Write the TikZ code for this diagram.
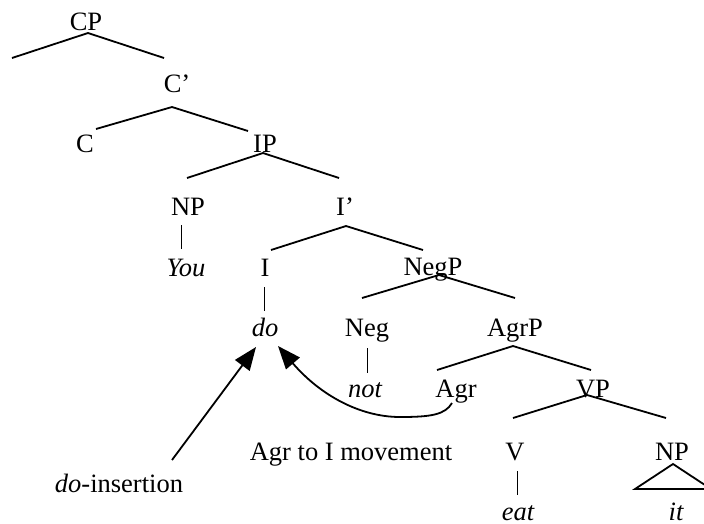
\documentclass[tikz,border=0pt]{standalone}
\usepackage{fontspec}
\setmainfont{Liberation Serif}
\usetikzlibrary{arrows.meta}
\begin{document}
\begin{tikzpicture}[x=1pt,y=-1pt,
  lab/.style={anchor=base, inner sep=0pt, font=\fontsize{26.5}{30}\selectfont},
  br/.style={line width=1.8pt},
  bar/.style={line width=0.9pt},
  mv/.style={line width=1.8pt, -{Triangle[length=23pt,width=18pt]}}]
\useasboundingbox (0,0) rectangle (704,523);
% labels
\node[lab] (CP) at (86,30) {CP};
\node[lab] (Cbar) at (177,92) {C’};
\node[lab] (C) at (85,152) {C};
\node[lab] (IP) at (265,152) {IP};
\node[lab] (NP1) at (188,215) {NP};
\node[lab] (Ibar) at (345,215) {I’};
\node[lab] (you) at (186,276) {\itshape You};
\node[lab] (I) at (265,276) {I};
\node[lab] (NegP) at (433,275) {NegP};
\node[lab] (do) at (265,336) {\itshape do};
\node[lab] (Neg) at (367,336) {Neg};
\node[lab] (AgrP) at (515,336) {AgrP};
\node[lab] (not) at (365,397) {\itshape not};
\node[lab] (Agr) at (456,397) {Agr};
\node[lab] (VP) at (593,397) {VP};
\node[lab] (mvlab) at (351,460) {Agr to I movement};
\node[lab] (V) at (515,460) {V};
\node[lab] (NP2) at (672,460) {NP};
\node[lab] (ins) at (119,492) {\itshape do\upshape -insertion};
\node[lab] (eat) at (518,520) {\itshape eat};
\node[lab] (it) at (676,520) {\itshape it};
% branch coordinates
\coordinate (cpA) at (88,33);  \coordinate (cpL) at (12,58);  \coordinate (cpR) at (164,58);
\coordinate (cbA) at (172,107); \coordinate (cbL) at (96,129); \coordinate (cbR) at (248,131);
\coordinate (ipA) at (263,153); \coordinate (ipL) at (187,178); \coordinate (ipR) at (339,178);
\coordinate (ibA) at (346,226); \coordinate (ibL) at (271,250); \coordinate (ibR) at (423,250);
\coordinate (ngA) at (439,275); \coordinate (ngL) at (362,298); \coordinate (ngR) at (515,298);
\coordinate (agA) at (513,346); \coordinate (agL) at (437,370); \coordinate (agR) at (591,370);
\coordinate (vpA) at (587,395); \coordinate (vpL) at (513,418); \coordinate (vpR) at (666,418);
\coordinate (npT) at (181,225); \coordinate (npB) at (181,249);
\coordinate (iT) at (264,287);  \coordinate (iB) at (264,311);
\coordinate (negT) at (367,348); \coordinate (negB) at (367,373);
\coordinate (vT) at (517,471);  \coordinate (vB) at (517,495);
\coordinate (trA) at (673,464); \coordinate (trL) at (635,489); \coordinate (trR) at (711,489);
\coordinate (insS) at (172,460); \coordinate (doL) at (256,347);
\coordinate (agrS) at (452,403); \coordinate (mid) at (400,417); \coordinate (doR) at (278,346);
% branches
\draw[br] (cpL) -- (cpA) -- (cpR);
\draw[br] (cbL) -- (cbA) -- (cbR);
\draw[br] (ipL) -- (ipA) -- (ipR);
\draw[br] (ibL) -- (ibA) -- (ibR);
\draw[br] (ngL) -- (ngA) -- (ngR);
\draw[br] (agL) -- (agA) -- (agR);
\draw[br] (vpL) -- (vpA) -- (vpR);
\draw[br] (trL) -- (trA) -- (trR) -- cycle;
\draw[bar] (npT) -- (npB);
\draw[bar] (iT) -- (iB);
\draw[bar] (negT) -- (negB);
\draw[bar] (vT) -- (vB);
% movement arrows
\draw[mv] (insS) -- (doL);
\draw[mv] (agrS) .. controls (445,415) and (430,417) .. (mid)
  .. controls (360,417) and (320,395) .. (doR);
\end{tikzpicture}
\end{document}
